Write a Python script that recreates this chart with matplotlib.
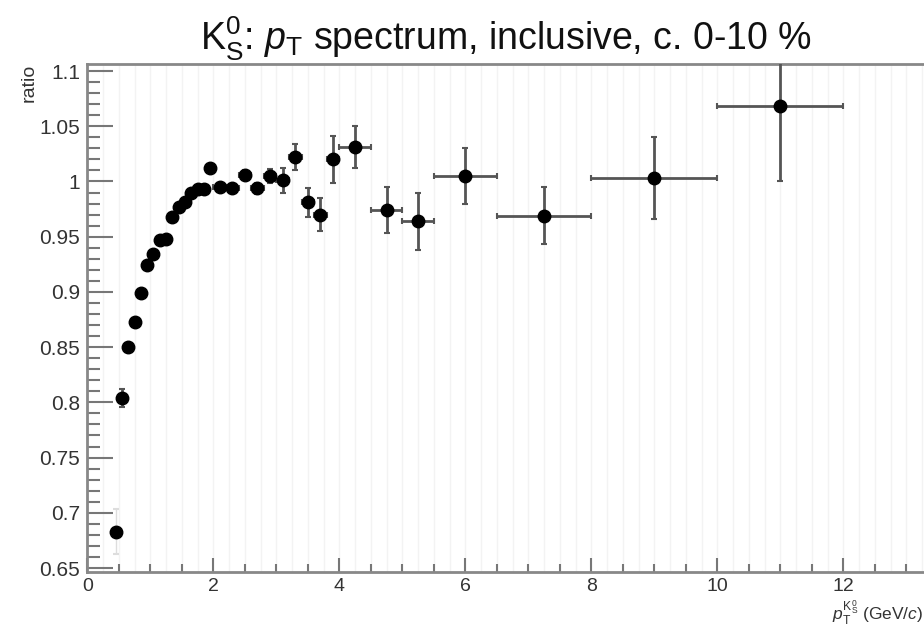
import numpy as np
import matplotlib
matplotlib.use('Agg')
import matplotlib.pyplot as plt
from matplotlib.ticker import MultipleLocator, FuncFormatter

# bin centres, half widths, ratio values and errors
pt = [0.45, 0.55, 0.65, 0.75, 0.85, 0.95, 1.05, 1.15, 1.25, 1.35, 1.45, 1.55,
      1.65, 1.75, 1.85, 1.95, 2.1, 2.3, 2.5, 2.7, 2.9, 3.1, 3.3, 3.5, 3.7, 3.9,
      4.25, 4.75, 5.25, 6.0, 7.25, 9.0, 11.0]
pt_err = [0.05] * 16 + [0.1] * 10 + [0.25, 0.25, 0.25, 0.5, 0.75, 1.0, 1.0]
ratio = [0.683, 0.804, 0.850, 0.873, 0.899, 0.924, 0.934, 0.947, 0.948, 0.968,
         0.977, 0.981, 0.990, 0.993, 0.993, 1.012, 0.995, 0.994, 1.006, 0.994,
         1.005, 1.001, 1.022, 0.981, 0.970, 1.020, 1.031, 0.974, 0.964, 1.005,
         0.969, 1.003, 1.068]
ratio_err = [0.020, 0.008, 0.004, 0.003, 0.003, 0.003, 0.003, 0.003, 0.003,
             0.003, 0.003, 0.003, 0.003, 0.003, 0.003, 0.003, 0.004, 0.004,
             0.004, 0.005, 0.006, 0.011, 0.012, 0.013, 0.015, 0.021, 0.019,
             0.021, 0.026, 0.025, 0.026, 0.037, 0.068]

plt.rcParams['font.family'] = ['Liberation Sans', 'DejaVu Sans']
plt.rcParams['mathtext.fontset'] = 'custom'
plt.rcParams['mathtext.rm'] = 'Liberation Sans'
plt.rcParams['mathtext.it'] = 'Liberation Sans:italic'

fig = plt.figure(figsize=(9.24, 6.27), dpi=100)
ax = fig.add_axes([0.0945, 0.0877, 0.9055, 0.8103])

# faint background lines
ax.vlines(np.arange(0.25, 13.5, 0.25), 0, 2, colors='#f3f3f3', linewidth=1, zorder=0)

# first point: error drawn only faintly in the reference
ax.errorbar(pt[:1], ratio[:1], xerr=pt_err[:1], yerr=ratio_err[:1], fmt='o',
            color='black', markersize=9, ecolor='#dddddd', elinewidth=1,
            capsize=2, capthick=1.5, zorder=3)
ax.errorbar(pt[1:], ratio[1:], xerr=pt_err[1:], yerr=ratio_err[1:], fmt='o',
            color='black', markersize=9, ecolor='#555555', elinewidth=2,
            capsize=2, capthick=1.5, zorder=3)

ax.set_xlim(0, 13.28)
ax.set_ylim(0.6464, 1.1064)

ax.xaxis.set_major_locator(MultipleLocator(2))
ax.xaxis.set_minor_locator(MultipleLocator(0.5))
ax.yaxis.set_major_locator(MultipleLocator(0.05))
ax.yaxis.set_minor_locator(MultipleLocator(0.01))
ax.yaxis.set_major_formatter(FuncFormatter(lambda v, _: f'{v:g}'))

ax.tick_params(axis='both', which='both', direction='in', colors='#777777',
               labelcolor='#333333', labelsize=15, width=1.5)
ax.tick_params(axis='y', which='major', length=19, pad=5)
ax.tick_params(axis='y', which='minor', length=9.5)
ax.tick_params(axis='x', which='major', length=10, pad=4, labelsize=14)
ax.tick_params(axis='x', which='minor', length=6)
ax.tick_params(top=False, right=False)

for s in ['left', 'bottom', 'top']:
    ax.spines[s].set_color('#888888')
    ax.spines[s].set_linewidth(2)
ax.spines['right'].set_visible(False)

ax.set_title(r'K$^{0}_{\mathrm{S}}$: $p_{\mathrm{T}}$ spectrum, inclusive, c. 0-10 %',
             fontsize=27, color='#111111', pad=10)
fig.text(0.031, 0.898, 'ratio', rotation=90, ha='center', va='top',
         fontsize=14, color='#333333')
fig.text(0.999, 0.0, r'$p_{\mathrm{T}}^{\mathrm{K}^{0}_{\mathrm{S}}}$ (GeV/$c$)',
         ha='right', va='bottom', fontsize=12.5, color='#333333')

fig.savefig('out.png', dpi=100)
